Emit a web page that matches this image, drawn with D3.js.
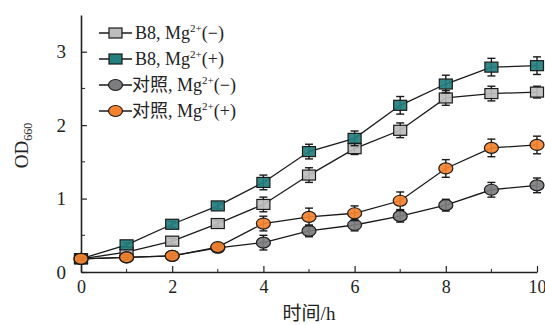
<!DOCTYPE html>
<html>
<head>
<meta charset="utf-8">
<script src="https://cdn.jsdelivr.net/npm/d3@7"></script>
<style>
  body { margin: 0; background: #fff; }
  svg text { font-family: "Liberation Serif", "Noto Sans CJK SC", serif; fill: #222; }
</style>
</head>
<body>
<div id="chart"></div>
<script>
// Data
const hours = [0, 1, 2, 3, 4, 5, 6, 7, 8, 9, 10];
const b8Minus = [0.18, 0.27, 0.42, 0.66, 0.92, 1.32, 1.68, 1.93, 2.37, 2.43, 2.45];
const b8MinusErr = [0.02, 0.03, 0.04, 0.04, 0.1, 0.1, 0.08, 0.1, 0.1, 0.1, 0.08];
const b8Plus = [0.18, 0.37, 0.65, 0.9, 1.22, 1.64, 1.82, 2.27, 2.56, 2.79, 2.81];
const b8PlusErr = [0.02, 0.03, 0.04, 0.04, 0.1, 0.1, 0.1, 0.12, 0.12, 0.12, 0.12];
const ctrlMinus = [0.18, 0.2, 0.22, 0.33, 0.4, 0.56, 0.64, 0.76, 0.91, 1.12, 1.18];
const ctrlMinusErr = [0.02, 0.03, 0.03, 0.04, 0.1, 0.08, 0.08, 0.08, 0.08, 0.1, 0.1];
const ctrlPlus = [0.18, 0.2, 0.22, 0.34, 0.66, 0.75, 0.8, 0.97, 1.41, 1.69, 1.73];
const ctrlPlusErr = [0.02, 0.03, 0.03, 0.04, 0.1, 0.12, 0.1, 0.12, 0.12, 0.12, 0.12];
const xTicks = [0, 2, 4, 6, 8, 10];
const yTicks = [0, 1, 2, 3];

const series = [
  { name: "B8", sign: "(−)", shape: "rect", fill: "#bdbdbd", values: b8Minus, err: b8MinusErr },
  { name: "B8", sign: "(+)", shape: "rect", fill: "#237f7e", values: b8Plus, err: b8PlusErr },
  { name: "对照", sign: "(−)", shape: "ellipse", fill: "#7d7d7f", values: ctrlMinus, err: ctrlMinusErr },
  { name: "对照", sign: "(+)", shape: "ellipse", fill: "#f5822e", values: ctrlPlus, err: ctrlPlusErr },
];

// Dimensions
const dimensions = { width: 545, height: 325, left: 81, right: 8, top: 15, bottom: 53 };
const ctrWidth = dimensions.width - dimensions.left - dimensions.right;
const ctrHeight = dimensions.height - dimensions.top - dimensions.bottom;

const svg = d3.select("#chart").append("svg")
  .attr("width", dimensions.width)
  .attr("height", dimensions.height);

const ctr = svg.append("g")
  .attr("transform", `translate(${dimensions.left}, ${dimensions.top})`);

// Scales
const xScale = d3.scaleLinear().domain([0, 10]).range([0, ctrWidth]);
const yScale = d3.scaleLinear().domain([0, 3.5]).range([ctrHeight, 0]);

// Axes (ticks inward)
const xAxis = d3.axisBottom(xScale).tickValues(xTicks).tickFormat(d3.format("d"))
  .tickSize(-6).tickPadding(8).tickSizeOuter(0);
const xg = ctr.append("g").attr("transform", `translate(0, ${ctrHeight})`).call(xAxis);
xg.append("g").selectAll("line").data([1, 3, 5, 7, 9]).join("line")
  .attr("x1", (d) => xScale(d)).attr("x2", (d) => xScale(d))
  .attr("y1", 0).attr("y2", -3).attr("stroke", "#222");

const yAxis = d3.axisLeft(yScale).tickValues(yTicks).tickFormat(d3.format("d"))
  .tickSize(-6).tickPadding(15).tickSizeOuter(0);
const yg = ctr.append("g").call(yAxis);
yg.append("g").selectAll("line").data([0.5, 1.5, 2.5]).join("line")
  .attr("x1", 0).attr("x2", 4)
  .attr("y1", (d) => yScale(d)).attr("y2", (d) => yScale(d)).attr("stroke", "#222");

[xg, yg].forEach((g) => {
  g.select(".domain").attr("stroke", "#222").attr("stroke-width", 1.6);
  g.selectAll(".tick line").attr("stroke", "#222").attr("stroke-width", 1.2);
  g.selectAll(".tick text").style("font-size", "19px").attr("fill", "#333");
});
xg.selectAll(".tick text").style("font-size", "18px");

// Lines, error bars, markers
const line = d3.line().x((d, i) => xScale(hours[i])).y((d) => yScale(d));

series.forEach((s) => {
  const g = ctr.append("g");
  g.append("path").datum(s.values).attr("d", line)
    .attr("fill", "none").attr("stroke", "#1a1a1a").attr("stroke-width", 1.3);

  const eb = g.append("g").attr("stroke", "#1a1a1a").attr("stroke-width", 1.4);
  eb.selectAll(".v").data(s.values).join("line")
    .attr("x1", (d, i) => xScale(hours[i])).attr("x2", (d, i) => xScale(hours[i]))
    .attr("y1", (d, i) => yScale(d + s.err[i])).attr("y2", (d, i) => yScale(d - s.err[i]));
  eb.selectAll(".t").data(s.values).join("line")
    .attr("x1", (d, i) => xScale(hours[i]) - 4).attr("x2", (d, i) => xScale(hours[i]) + 4)
    .attr("y1", (d, i) => yScale(d + s.err[i])).attr("y2", (d, i) => yScale(d + s.err[i]));
  eb.selectAll(".b").data(s.values).join("line")
    .attr("x1", (d, i) => xScale(hours[i]) - 4).attr("x2", (d, i) => xScale(hours[i]) + 4)
    .attr("y1", (d, i) => yScale(d - s.err[i])).attr("y2", (d, i) => yScale(d - s.err[i]));

  const mk = g.append("g").attr("fill", s.fill).attr("stroke", "#1a1a1a").attr("stroke-width", 1.2);
  if (s.shape === "rect") {
    mk.selectAll("rect").data(s.values).join("rect")
      .attr("x", (d, i) => xScale(hours[i]) - 6.5).attr("y", (d) => yScale(d) - 5)
      .attr("width", 13).attr("height", 10).attr("fill-opacity", 0.92);
  } else {
    mk.selectAll("ellipse").data(s.values).join("ellipse")
      .attr("cx", (d, i) => xScale(hours[i])).attr("cy", (d) => yScale(d))
      .attr("rx", 7).attr("ry", 5.5).attr("fill-opacity", 0.92);
  }
});

// Legend
const legend = svg.append("g").attr("transform", "translate(99, 33)");
series.forEach((s, i) => {
  const row = legend.append("g").attr("transform", `translate(0, ${i * 26})`);
  row.append("line").attr("x1", 0).attr("x2", 33).attr("y1", 0).attr("y2", 0)
    .attr("stroke", "#1a1a1a").attr("stroke-width", 1.3);
  if (s.shape === "rect") {
    row.append("rect").attr("x", 10).attr("y", -5).attr("width", 13).attr("height", 10)
      .attr("fill", s.fill).attr("stroke", "#1a1a1a").attr("stroke-width", 1.2);
  } else {
    row.append("ellipse").attr("cx", 16.5).attr("cy", 0).attr("rx", 7).attr("ry", 5.5)
      .attr("fill", s.fill).attr("stroke", "#1a1a1a").attr("stroke-width", 1.2);
  }
  const t = row.append("text").attr("x", s.name === "B8" ? 36 : 33).attr("y", 6)
    .style("font-size", "18px");
  t.append("tspan").text(`${s.name}, Mg`);
  t.append("tspan").attr("dy", -7).style("font-size", "11px").text("2+");
  t.append("tspan").attr("dy", 7).text(s.sign);
});

// Axis titles
svg.append("text")
  .attr("x", dimensions.left + ctrWidth / 2).attr("y", 320)
  .attr("text-anchor", "middle").style("font-size", "19px")
  .text("时间/h");

const yTitle = svg.append("text")
  .attr("transform", `translate(28, ${dimensions.top + ctrHeight / 2 + 2}) rotate(-90)`)
  .attr("text-anchor", "middle").style("font-size", "19px");
yTitle.append("tspan").text("OD");
yTitle.append("tspan").attr("dy", 4).style("font-size", "12px").text("660");
</script>
</body>
</html>
